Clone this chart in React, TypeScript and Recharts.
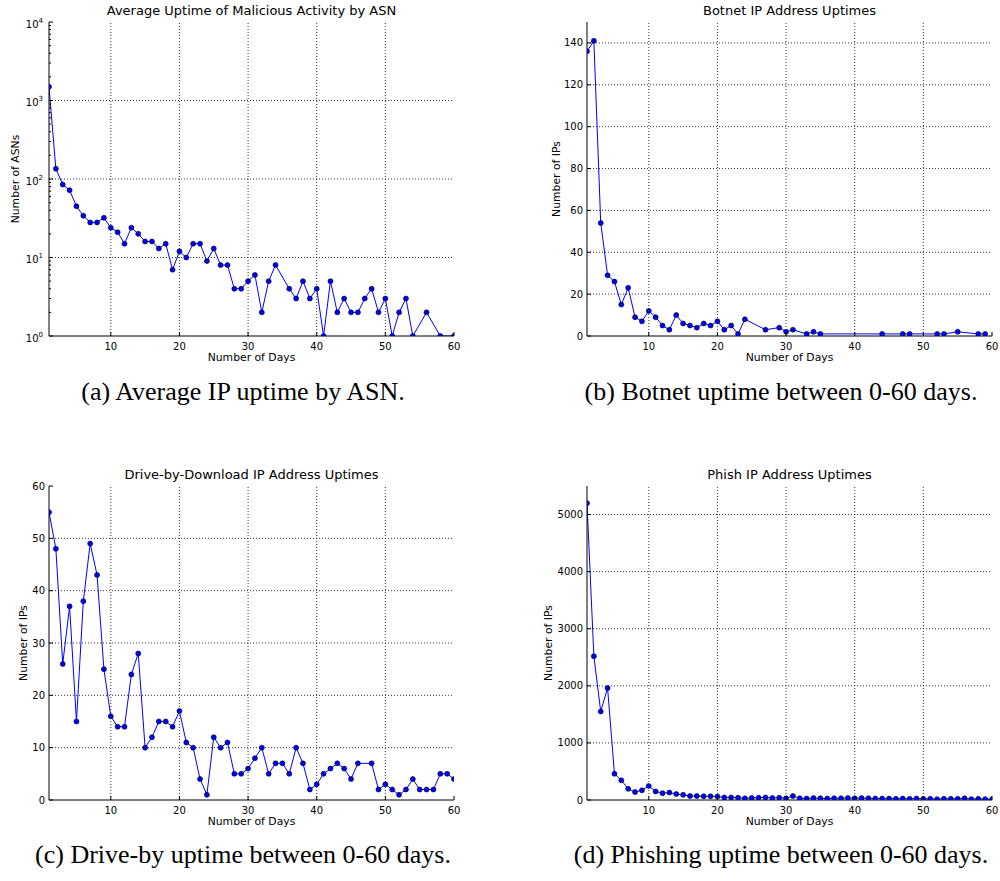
import React from 'react';
import { LineChart, Line, XAxis, YAxis, ReferenceLine } from 'recharts';

const SANS = '"DejaVu Sans", sans-serif';
const SERIF = '"Liberation Serif", "Times New Roman", serif';

// X axis (shared)
const dayTicks = [10, 20, 30, 40, 50, 60];
const dayGrid = [10, 20, 30, 40, 50];

// (a) Average uptime by ASN (log scale)
const asnDays = [1, 2, 3, 4, 5, 6, 7, 8, 9, 10, 11, 12, 13, 14, 15, 16, 17, 18, 19, 20, 21, 22, 23, 24, 25, 26, 27, 28, 29, 30, 31, 32, 33, 34, 36, 37, 38, 39, 40, 41, 42, 43, 44, 45, 46, 47, 48, 49, 50, 51, 52, 53, 54, 56, 58, 60];
const asnCounts = [1500, 135, 85, 72, 45, 34, 28, 28, 32, 24, 21, 15, 24, 20, 16, 16, 13, 15, 7, 12, 10, 15, 15, 9, 13, 8, 8, 4, 4, 5, 6, 2, 5, 8, 4, 3, 5, 3, 4, 1, 5, 2, 3, 2, 2, 3, 4, 2, 3, 1, 2, 3, 1, 2, 1, 1];
const asnMajorTicks = [1, 10, 100, 1000, 10000];
const asnMinorTicks = [2, 3, 4, 5, 6, 7, 8, 9, 20, 30, 40, 50, 60, 70, 80, 90, 200, 300, 400, 500, 600, 700, 800, 900, 2000, 3000, 4000, 5000, 6000, 7000, 8000, 9000];
const asnGrid = [10, 100, 1000];

// (b) Botnet
const botDays = [1, 2, 3, 4, 5, 6, 7, 8, 9, 10, 11, 12, 13, 14, 15, 16, 17, 18, 19, 20, 21, 22, 23, 24, 27, 29, 30, 31, 33, 34, 35, 44, 47, 48, 52, 53, 55, 58, 59];
const botCounts = [136, 141, 54, 29, 26, 15, 23, 9, 7, 12, 9, 5, 3, 10, 6, 5, 4, 6, 5, 7, 3, 5, 1, 8, 3, 4, 2, 3, 1, 2, 1, 1, 1, 1, 1, 1, 2, 1, 1];
const botTicks = [0, 20, 40, 60, 80, 100, 120, 140];
const botGrid = [20, 40, 60, 80, 100, 120, 140];

// (c) Drive-by-download
const driveDays = [1, 2, 3, 4, 5, 6, 7, 8, 9, 10, 11, 12, 13, 14, 15, 16, 17, 18, 19, 20, 21, 22, 23, 24, 25, 26, 27, 28, 29, 30, 31, 32, 33, 34, 35, 36, 37, 38, 39, 40, 41, 42, 43, 44, 45, 46, 48, 49, 50, 51, 52, 53, 54, 55, 56, 57, 58, 59, 60];
const driveCounts = [55, 48, 26, 37, 15, 38, 49, 43, 25, 16, 14, 14, 24, 28, 10, 12, 15, 15, 14, 17, 11, 10, 4, 1, 12, 10, 11, 5, 5, 6, 8, 10, 5, 7, 7, 5, 10, 7, 2, 3, 5, 6, 7, 6, 4, 7, 7, 2, 3, 2, 1, 2, 4, 2, 2, 2, 5, 5, 4];
const driveTicks = [0, 10, 20, 30, 40, 50, 60];
const driveGrid = [10, 20, 30, 40, 50];

// (d) Phish
const phishDays = [1, 2, 3, 4, 5, 6, 7, 8, 9, 10, 11, 12, 13, 14, 15, 16, 17, 18, 19, 20, 21, 22, 23, 24, 25, 26, 27, 28, 29, 30, 31, 32, 33, 34, 35, 36, 37, 38, 39, 40, 41, 42, 43, 44, 45, 46, 47, 48, 49, 50, 51, 52, 53, 54, 55, 56, 57, 58, 59, 60];
const phishCounts = [5200, 2520, 1550, 1960, 460, 345, 195, 140, 170, 245, 150, 120, 130, 105, 90, 70, 70, 65, 65, 60, 45, 45, 40, 30, 35, 40, 45, 35, 40, 30, 70, 30, 25, 35, 30, 25, 30, 30, 35, 30, 35, 30, 25, 25, 25, 20, 25, 20, 25, 20, 20, 15, 20, 20, 20, 30, 15, 20, 15, 15];
const phishTicks = [0, 1000, 2000, 3000, 4000, 5000];
const phishGrid = [1000, 2000, 3000, 4000, 5000];

const W = 470;
const H = 380;
const PL = 49;
const PR = 454;
const PT = 22;
const PB = 336;

type PanelProps = {
  left: number;
  top: number;
  title: string;
  yLabel: string;
  yLabelX: number;
  days: number[];
  values: number[];
  yDomain: [number, number];
  yTicks: number[];
  yGrid: number[];
  log?: boolean;
  majors?: number[];
};

function Panel(p: PanelProps) {
  const data = p.days.map((d, i) => ({ day: d, value: p.values[i] }));
  const isMajor = (v: number) => !p.log || (p.majors || []).indexOf(v) >= 0;

  const bottomTick = (props: any) => {
    const { x, y, payload } = props;
    return (
      <g>
        <line x1={x} y1={y} x2={x} y2={y - 4} stroke="#000" strokeWidth={1} />
        <text x={x} y={y + 10} dy="0.35em" textAnchor="middle" fontSize={10} fontFamily={SANS} fill="#000">
          {payload.value}
        </text>
      </g>
    );
  };
  const topTick = (props: any) => {
    const { x, y } = props;
    return <line x1={x} y1={y} x2={x} y2={y + 4} stroke="#000" strokeWidth={1} />;
  };
  const leftTick = (props: any) => {
    const { x, y, payload } = props;
    const v = payload.value as number;
    const major = isMajor(v);
    const len = major ? 4 : 2;
    let label: React.ReactNode = null;
    if (major) {
      if (p.log) {
        const exp = (p.majors || []).indexOf(v);
        label = (
          <text x={x - 6} y={y + 2} dy="0.35em" textAnchor="end" fontSize={10} fontFamily={SANS} fill="#000">
            10
            <tspan dy={-5} fontSize={7}>{exp}</tspan>
          </text>
        );
      } else {
        label = (
          <text x={x - 4} y={y} dy="0.35em" textAnchor="end" fontSize={10} fontFamily={SANS} fill="#000">
            {v}
          </text>
        );
      }
    }
    return (
      <g>
        <line x1={x} y1={y} x2={x + len} y2={y} stroke="#000" strokeWidth={1} />
        {label}
      </g>
    );
  };
  const rightTick = (props: any) => {
    const { x, y, payload } = props;
    const len = isMajor(payload.value) ? 4 : 2;
    return <line x1={x} y1={y} x2={x - len} y2={y} stroke="#000" strokeWidth={1} />;
  };

  const allYTicks = p.yTicks;

  return (
    <div style={{ position: 'absolute', left: p.left, top: p.top, width: W, height: H }}>
      <div
        style={{
          position: 'absolute',
          left: PL - 100,
          width: PR - PL + 200,
          top: 3,
          textAlign: 'center',
          fontSize: 13,
          lineHeight: '16px',
          fontFamily: SANS,
          whiteSpace: 'nowrap',
          color: '#000',
        }}
      >
        {p.title}
      </div>
      <LineChart width={W} height={H} data={data} margin={{ top: PT, right: W - PR, bottom: 14, left: 0 }}>
        <XAxis
          dataKey="day"
          type="number"
          domain={[1, 60]}
          ticks={dayTicks}
          interval={0}
          allowDataOverflow
          tickSize={0}
          tickMargin={0}
          tickLine={false}
          axisLine={{ stroke: '#000', strokeWidth: 1 }}
          height={30}
          tick={bottomTick}
        />
        <XAxis
          xAxisId="t"
          orientation="top"
          type="number"
          domain={[1, 60]}
          ticks={dayTicks}
          interval={0}
          allowDataOverflow
          tickSize={0}
          tickMargin={0}
          tickLine={false}
          axisLine={{ stroke: '#000', strokeWidth: 1 }}
          height={0}
          tick={topTick}
        />
        <YAxis
          type="number"
          scale={p.log ? 'log' : 'linear'}
          domain={p.yDomain}
          ticks={allYTicks}
          interval={0}
          allowDataOverflow
          width={PL}
          tickSize={0}
          tickMargin={0}
          tickLine={false}
          axisLine={{ stroke: '#000', strokeWidth: 1 }}
          tick={leftTick}
        />
        <YAxis
          yAxisId="r"
          orientation="right"
          type="number"
          scale={p.log ? 'log' : 'linear'}
          domain={p.yDomain}
          ticks={allYTicks}
          interval={0}
          allowDataOverflow
          width={0}
          tickSize={0}
          tickMargin={0}
          tickLine={false}
          axisLine={{ stroke: '#000', strokeWidth: 1 }}
          tick={rightTick}
        />
        {dayGrid.map((d) => (
          <ReferenceLine key={'x' + d} x={d} stroke="#000" strokeWidth={0.8} strokeDasharray="1 2" />
        ))}
        {p.yGrid.map((v) => (
          <ReferenceLine key={'y' + v} y={v} stroke="#000" strokeWidth={0.8} strokeDasharray="1 2" />
        ))}
        <Line
          dataKey="value"
          type="linear"
          stroke="#0000ff"
          strokeWidth={1}
          dot={{ r: 2.5, fill: '#0000ff', stroke: '#000', strokeWidth: 0.6 }}
          activeDot={false}
          isAnimationActive={false}
        />
      </LineChart>
      <div
        style={{
          position: 'absolute',
          left: p.yLabelX,
          top: (PT + PB) / 2,
          transform: 'translate(-50%, -50%) rotate(-90deg)',
          fontSize: 10.8,
          fontFamily: SANS,
          whiteSpace: 'nowrap',
          lineHeight: '12px',
          color: '#000',
        }}
      >
        {p.yLabel}
      </div>
      <div
        style={{
          position: 'absolute',
          left: PL,
          width: PR - PL,
          top: PB + 22 - 7,
          textAlign: 'center',
          fontSize: 10.8,
          lineHeight: '14px',
          fontFamily: SANS,
          whiteSpace: 'nowrap',
          color: '#000',
        }}
      >
        Number of Days
      </div>
    </div>
  );
}

function Caption({ cx, baseline, text }: { cx: number; baseline: number; text: string }) {
  return (
    <div
      style={{
        position: 'absolute',
        left: cx - 250,
        width: 500,
        top: baseline - 22,
        textAlign: 'center',
        fontSize: 26,
        lineHeight: '26px',
        fontFamily: SERIF,
        whiteSpace: 'nowrap',
        color: '#000',
      }}
    >
      {text}
    </div>
  );
}

export default function App() {
  return (
    <div style={{ position: 'absolute', left: 0, top: 0, width: 1000, height: 881, background: '#fff', overflow: 'hidden' }}>
      <Panel
        left={0}
        top={0}
        title="Average Uptime of Malicious Activity by ASN"
        yLabel="Number of ASNs"
        yLabelX={15.5}
        days={asnDays}
        values={asnCounts}
        yDomain={[1, 10000]}
        yTicks={[...asnMajorTicks, ...asnMinorTicks].sort((a, b) => a - b)}
        yGrid={asnGrid}
        log
        majors={asnMajorTicks}
      />
      <Panel
        left={538}
        top={0}
        title="Botnet IP Address Uptimes"
        yLabel="Number of IPs"
        yLabelX={19}
        days={botDays}
        values={botCounts}
        yDomain={[0, 150]}
        yTicks={botTicks}
        yGrid={botGrid}
      />
      <Panel
        left={0}
        top={464}
        title="Drive-by-Download IP Address Uptimes"
        yLabel="Number of IPs"
        yLabelX={24}
        days={driveDays}
        values={driveCounts}
        yDomain={[0, 60]}
        yTicks={driveTicks}
        yGrid={driveGrid}
      />
      <Panel
        left={538}
        top={464}
        title="Phish IP Address Uptimes"
        yLabel="Number of IPs"
        yLabelX={11}
        days={phishDays}
        values={phishCounts}
        yDomain={[0, 5500]}
        yTicks={phishTicks}
        yGrid={phishGrid}
      />
      <Caption cx={243} baseline={401} text="(a) Average IP uptime by ASN." />
      <Caption cx={781} baseline={401} text="(b) Botnet uptime between 0-60 days." />
      <Caption cx={243} baseline={864} text="(c) Drive-by uptime between 0-60 days." />
      <Caption cx={781} baseline={864} text="(d) Phishing uptime between 0-60 days." />
    </div>
  );
}
